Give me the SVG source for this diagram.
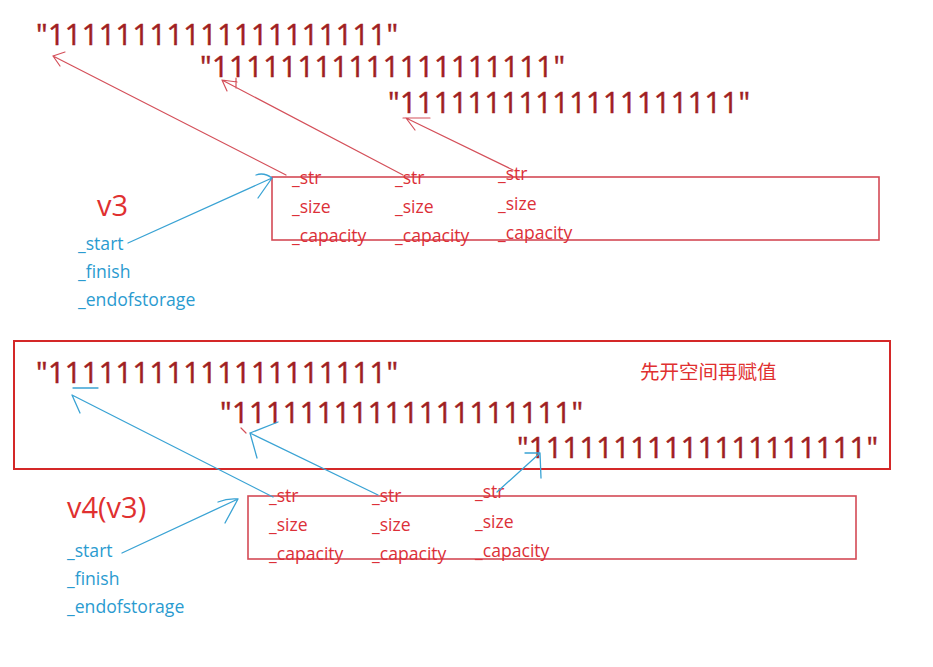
<svg xmlns="http://www.w3.org/2000/svg" width="933" height="667" viewBox="0 0 933 667">
<style>
.big{font-family:"Open Sans","Liberation Sans",sans-serif;font-size:29px;fill:#a01e22;stroke:#a01e22;stroke-width:0.5}
.fld{font-family:"Open Sans","Liberation Sans",sans-serif;font-size:17.6px;fill:#dc3038}
.var{font-family:"Open Sans","Liberation Sans",sans-serif;font-size:17.6px;fill:#2a9bd0}
.ttl{font-family:"Open Sans","Liberation Sans",sans-serif;font-size:29px;fill:#e03030}
.note{font-family:"Noto Sans CJK SC",sans-serif;font-size:19.5px;fill:#e03030}
.box{fill:none;stroke:#d44a55;stroke-width:1.6}
.rl{fill:none;stroke:#d4505a;stroke-width:1.2;stroke-linecap:round}
.bl{fill:none;stroke:#3aa3d4;stroke-width:1.3;stroke-linecap:round}
</style>
<rect width="933" height="667" fill="#ffffff"/>

<g id="top-strings">
<text class="big" x="36" y="45" textLength="362" lengthAdjust="spacing">"11111111111111111111"</text>
<text class="big" x="200" y="77" textLength="365" lengthAdjust="spacing">"11111111111111111111"</text>
<text class="big" x="388" y="113" textLength="362" lengthAdjust="spacing">"11111111111111111111"</text>
</g>

<g id="v3">
<text class="ttl" x="97" y="216">v3</text>
<text class="var" x="78" y="250">_start</text>
<text class="var" x="78" y="278">_finish</text>
<text class="var" x="78" y="306">_endofstorage</text>
</g>

<g id="top-box">
<rect class="box" x="272" y="177" width="607" height="63"/>
<text class="fld" x="292" y="184">_str</text>
<text class="fld" x="292" y="213">_size</text>
<text class="fld" x="292" y="242">_capacity</text>
<text class="fld" x="395" y="184">_str</text>
<text class="fld" x="395" y="213">_size</text>
<text class="fld" x="395" y="242">_capacity</text>
<text class="fld" x="498" y="180">_str</text>
<text class="fld" x="498" y="210">_size</text>
<text class="fld" x="498" y="239">_capacity</text>
</g>

<g id="bottom-frame">
<rect x="14" y="341" width="876" height="128" fill="none" stroke="#d42828" stroke-width="2"/>
<text class="note" x="640" y="379">先开空间再赋值</text>
<text class="big" x="36" y="383" textLength="362" lengthAdjust="spacing">"11111111111111111111"</text>
<text class="big" x="220" y="423" textLength="363" lengthAdjust="spacing">"11111111111111111111"</text>
<text class="big" x="517" y="458" textLength="361" lengthAdjust="spacing">"11111111111111111111"</text>
</g>

<g id="v4">
<text class="ttl" x="67" y="518">v4(v3)</text>
<text class="var" x="67" y="557">_start</text>
<text class="var" x="67" y="585">_finish</text>
<text class="var" x="67" y="613">_endofstorage</text>
</g>

<g id="bottom-box">
<rect class="box" x="248" y="496" width="608" height="63"/>
<text class="fld" x="269" y="502">_str</text>
<text class="fld" x="269" y="531">_size</text>
<text class="fld" x="269" y="560">_capacity</text>
<text class="fld" x="372" y="502">_str</text>
<text class="fld" x="372" y="531">_size</text>
<text class="fld" x="372" y="560">_capacity</text>
<text class="fld" x="475" y="498">_str</text>
<text class="fld" x="475" y="528">_size</text>
<text class="fld" x="475" y="557">_capacity</text>
</g>

<g id="connectors">
<path class="rl" d="M286,175 L53,56 M53,56 L65,52 M53,56 L60,66"/>
<path class="rl" d="M403,175 L222,80 M222,80 L237,82 M222,80 L227,91 M236,78 L236,88"/>
<path class="rl" d="M513,170 L406,118 M406,118 L415,130 M403,118 L430,118"/>
<path class="bl" d="M128,243 L272,178 M272,178 Q264,172 256,175 M272,178 L258,198"/>
<path class="bl" d="M273,497 L72,395 M72,395 L80,413 M73,388 L98,388"/>
<path class="bl" d="M378,495 L250,433 M250,433 L278,422 M250,433 L257,458"/>
<path class="rl" d="M241,428 L246,433"/>
<path class="bl" d="M497,492 L540,453 M525,453 L540,453 M540,453 L541,478"/>
<path class="bl" d="M122,553 L238,499 M238,499 Q228,498 218,502 M238,499 L225,523"/>
</g>
</svg>
